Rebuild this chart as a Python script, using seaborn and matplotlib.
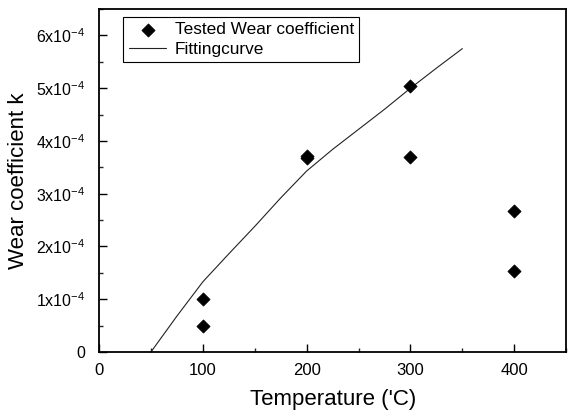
import numpy as np
import pandas as pd
import matplotlib
matplotlib.use("Agg")
import matplotlib.pyplot as plt
import seaborn as sns
from matplotlib.ticker import FuncFormatter, MultipleLocator

# tested wear coefficient (two runs per temperature)
temp_tested = [100, 100, 200, 200, 300, 300, 400, 400]
k_tested = [1.0e-4, 0.49e-4, 3.72e-4, 3.68e-4, 5.05e-4, 3.70e-4, 2.67e-4, 1.53e-4]

# fitting curve
temp_fit = [50, 75, 100, 125, 150, 175, 200, 225, 250, 275, 300, 325, 350]
k_fit = [0.0, 0.68e-4, 1.33e-4, 1.86e-4, 2.38e-4, 2.92e-4, 3.43e-4, 3.84e-4,
         4.22e-4, 4.6e-4, 5.0e-4, 5.38e-4, 5.75e-4]

sns.set_style("ticks")
plt.rcParams['font.family'] = ['Liberation Sans', 'DejaVu Sans']
plt.rcParams['mathtext.fontset'] = 'custom'
plt.rcParams['mathtext.rm'] = 'Liberation Sans'
plt.rcParams['text.color'] = 'black'
plt.rcParams['axes.labelcolor'] = 'black'

fig = plt.figure(figsize=(5.73, 4.13), dpi=100)
ax = fig.add_axes([0.173, 0.148, 0.815, 0.83])

df_t = pd.DataFrame({"T": temp_tested, "k": k_tested})
df_f = pd.DataFrame({"T": temp_fit, "k": k_fit})

sns.lineplot(data=df_f, x="T", y="k", ax=ax, color="#222222", linewidth=0.8,
             label="Fittingcurve")
sns.scatterplot(data=df_t, x="T", y="k", ax=ax, marker="D", s=45, color="black",
                edgecolor="black", label="Tested Wear coefficient", zorder=3)

ax.set_xlim(0, 450)
ax.set_ylim(0, 6.5e-4)
ax.xaxis.set_major_locator(MultipleLocator(100))
ax.xaxis.set_minor_locator(MultipleLocator(50))
ax.yaxis.set_major_locator(MultipleLocator(1e-4))
ax.yaxis.set_minor_locator(MultipleLocator(0.5e-4))


def yfmt(v, pos):
    n = int(round(v / 1e-4))
    if n == 0:
        return "0"
    return r"$\mathregular{%dx10^{-4}}$" % n


ax.yaxis.set_major_formatter(FuncFormatter(yfmt))
ax.tick_params(which="major", direction="in", length=6, width=1, labelsize=12, colors="black")
ax.tick_params(which="minor", direction="in", length=3, width=1)
ax.tick_params(axis="y", which="major", pad=10, labelsize=11.5)
ax.tick_params(axis="x", which="major", pad=8)
for sp in ax.spines.values():
    sp.set_linewidth(1.3)
    sp.set_color("black")

ax.set_xlabel("Temperature ('C)", fontsize=16, labelpad=8)
ax.set_ylabel("Wear coefficient k", fontsize=16, labelpad=5)

h, l = ax.get_legend_handles_labels()
leg = ax.legend(h[::-1], l[::-1], loc="upper left", bbox_to_anchor=(0.052, 0.977),
                fontsize=12.4, frameon=True, fancybox=False, edgecolor="black",
                framealpha=1, borderpad=0.3, labelspacing=0.25, handlelength=2.2,
                handletextpad=0.5, borderaxespad=0)
leg.get_frame().set_linewidth(0.8)

fig.savefig("out.png", dpi=100)
